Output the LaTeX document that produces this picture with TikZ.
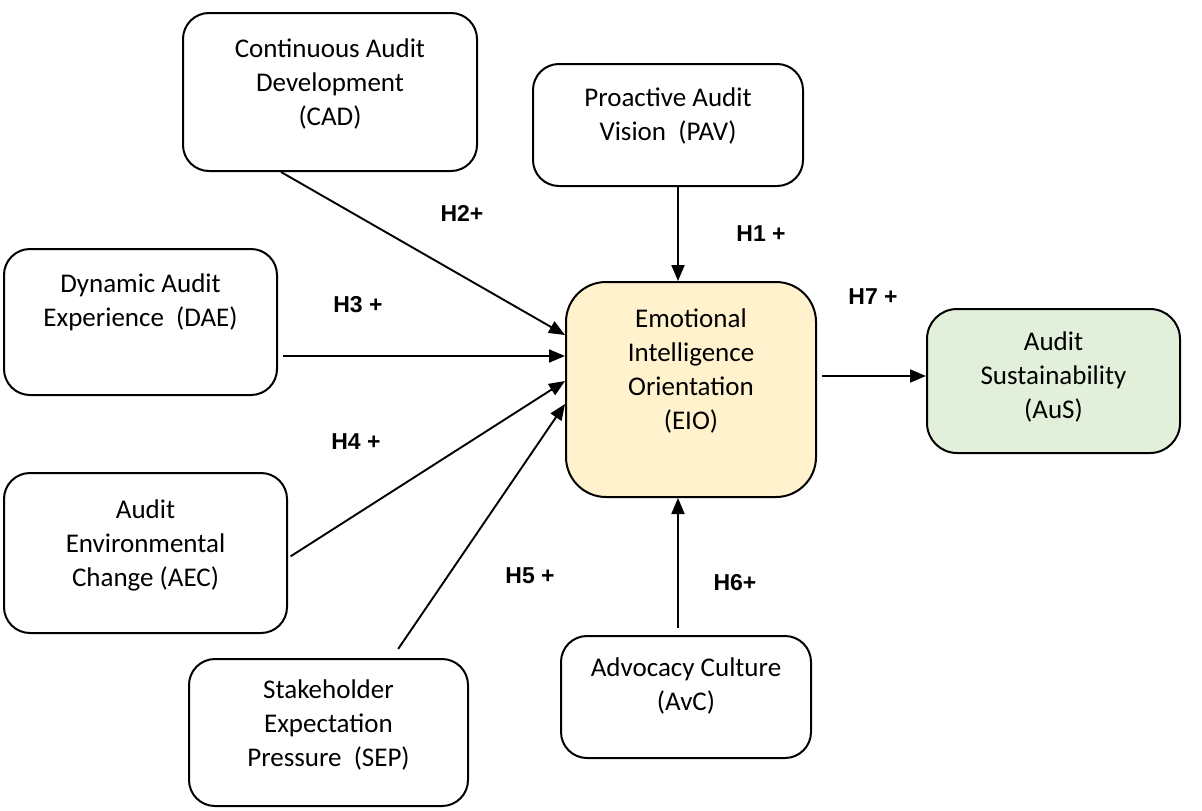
\documentclass[tikz,border=0pt]{standalone}
\usepackage{fontspec}
\setmainfont{Carlito}
\newfontfamily\labfont{Liberation Sans}
\usetikzlibrary{arrows.meta}
\definecolor{eiofill}{HTML}{FFF2CC}
\definecolor{ausfill}{HTML}{E2EFDA}
\begin{document}
\begin{tikzpicture}[x=1pt,y=-1pt,
  box/.style={draw=black, line width=2pt, rounded corners=26pt, inner sep=0pt, fill=white},
  boxtext/.style={align=center, font=\fontsize{27}{34}\selectfont, inner sep=0pt},
  hyp/.style={font=\labfont\bfseries\fontsize{23}{28}\selectfont, inner sep=0pt},
  link/.style={line width=1.9pt, -{Triangle[length=16pt,width=13pt]}},
]
\useasboundingbox (0,0) rectangle (1202,811);

% boxes
\node[box, minimum width=294pt, minimum height=158pt,
  label={[boxtext,yshift=8pt]center:{Continuous Audit\\Development\\(CAD)}}] (cad) at (330,92) {};
\node[box, minimum width=270pt, minimum height=122pt,
  label={[boxtext,yshift=9pt]center:{Proactive Audit\\Vision\ \ (PAV)}}] (pav) at (668,125) {};
\node[box, minimum width=273pt, minimum height=146pt,
  label={[boxtext,yshift=20pt]center:{Dynamic Audit\\Experience\ \ (DAE)}}] (dae) at (140.5,322) {};
\node[box, minimum width=283pt, minimum height=160pt,
  label={[boxtext,yshift=8pt]center:{Audit\\Environmental\\Change (AEC)}}] (aec) at (145.5,553) {};
\node[box, minimum width=279pt, minimum height=147pt,
  label={[boxtext,yshift=8pt]center:{Stakeholder\\Expectation\\Pressure\ \ (SEP)}}] (sep) at (328.5,732.5) {};
\node[box, minimum width=250pt, minimum height=122pt,
  label={[boxtext,yshift=11pt]center:{Advocacy Culture\\(AvC)}}] (avc) at (686,697) {};
\node[box, fill=eiofill, rounded corners=40pt, minimum width=250pt, minimum height=215pt,
  label={[boxtext,yshift=19pt]center:{Emotional\\Intelligence\\Orientation\\(EIO)}}] (eio) at (691,389.5) {};
\node[box, fill=ausfill, rounded corners=30pt, minimum width=253pt, minimum height=144pt,
  label={[boxtext,yshift=4pt]center:{Audit\\Sustainability\\(AuS)}}] (aus) at (1053.5,381) {};

% connectors
\draw[link] (cad.south -| 281,0) -- (eio.west |- 0,335);
\draw[link] (pav.south -| 678,0) -- (eio.north -| 678,0);
\draw[link, shorten <=5pt] (dae.east |- 0,356) -- (eio.west |- 0,356);
\draw[link, shorten <=3pt] (aec.east |- 0,558) -- (eio.west |- 0,381);
\draw[link, shorten <=11pt] (sep.north -| 392,0) -- (eio.west |- 0,404);
\draw[link, shorten <=7pt] (avc.north -| 678,0) -- (eio.south -| 678,0);
\draw[link, shorten <=5pt] (eio.east |- 0,376) -- (aus.west |- 0,376);

% hypothesis labels
\node[hyp] (h1) at (761,234) {H1 +};
\node[hyp] (h2) at (462,213) {H2+};
\node[hyp] (h3) at (358,305) {H3 +};
\node[hyp] (h4) at (356,442) {H4 +};
\node[hyp] (h5) at (530,576) {H5 +};
\node[hyp] (h6) at (735,583) {H6+};
\node[hyp] (h7) at (873,297) {H7 +};
\end{tikzpicture}
\end{document}
